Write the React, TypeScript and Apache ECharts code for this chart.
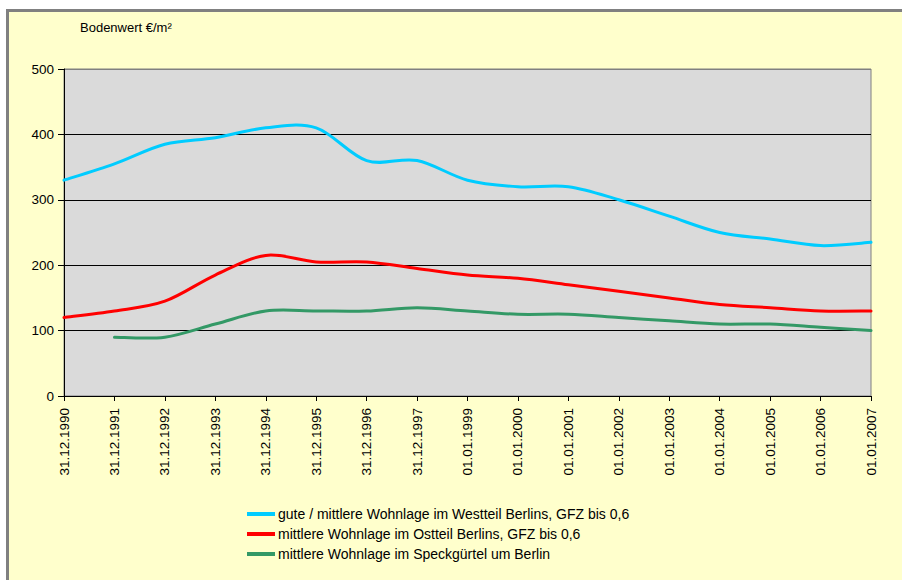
import React, { useEffect, useRef } from "react";
import * as echarts from "echarts";

const categories = [
  "31.12.1990", "31.12.1991", "31.12.1992", "31.12.1993", "31.12.1994", "31.12.1995",
  "31.12.1996", "31.12.1997", "01.01.1999", "01.01.2000", "01.01.2001", "01.01.2002",
  "01.01.2003", "01.01.2004", "01.01.2005", "01.01.2006", "01.01.2007",
];

const westName = "gute / mittlere Wohnlage im Westteil Berlins, GFZ bis 0,6";
const ostName = "mittlere Wohnlage im Ostteil Berlins, GFZ bis 0,6";
const speckName = "mittlere Wohnlage im Speckgürtel um Berlin";

const westValues = [330, 355, 385, 395, 410, 410, 360, 360, 330, 320, 320, 300, 275, 250, 240, 230, 235];
const ostValues = [120, 130, 145, 185, 215, 205, 205, 195, 185, 180, 170, 160, 150, 140, 135, 130, 130];
const speckValues: (number | null)[] = [null, 90, 90, 110, 130, 130, 130, 135, 130, 125, 125, 120, 115, 110, 110, 105, 100];

const yTicks = [0, 100, 200, 300, 400, 500];

const FONT = "'Liberation Sans', Arial, sans-serif";

// Excel-style smoothed line (Bezier with Catmull-Rom control points, tension 1/6)
function smoothPath(pts: number[][]): string {
  if (pts.length === 0) return "";
  let d = `M${pts[0][0]},${pts[0][1]}`;
  for (let i = 0; i < pts.length - 1; i++) {
    const p0 = pts[i - 1] || pts[i];
    const p1 = pts[i];
    const p2 = pts[i + 1];
    const p3 = pts[i + 2] || pts[i + 1];
    const c1x = p1[0] + (p2[0] - p0[0]) / 6;
    const c1y = p1[1] + (p2[1] - p0[1]) / 6;
    const c2x = p2[0] - (p3[0] - p1[0]) / 6;
    const c2y = p2[1] - (p3[1] - p1[1]) / 6;
    d += ` C${c1x},${c1y} ${c2x},${c2y} ${p2[0]},${p2[1]}`;
  }
  return d;
}

export default function App() {
  const ref = useRef<HTMLDivElement>(null);
  useEffect(() => {
    if (!ref.current) return;
    const chart = echarts.init(ref.current, null, { renderer: "svg" });
    const mk = (name: string, values: (number | null)[], color: string) => ({
      name,
      type: "custom",
      encode: { x: 0, y: 1 },
      data: values.map((v, i) => [i, v == null ? "-" : v]),
      itemStyle: { color },
      renderItem: (params: any, api: any) => {
        if (params.dataIndex !== values.length - 1) return null;
        const pts: number[][] = [];
        values.forEach((v, i) => {
          if (v != null) pts.push(api.coord([i, v]));
        });
        return {
          type: "path",
          shape: { pathData: smoothPath(pts) },
          style: { stroke: color, fill: "none", lineWidth: 3, lineJoin: "round", lineCap: "round" },
          silent: true,
        };
      },
    });
    chart.setOption({
      animation: false,
      backgroundColor: "#ffffff",
      textStyle: { fontFamily: FONT },
      graphic: [
        {
          type: "rect",
          shape: { x: 7.5, y: 10.5, width: 1000, height: 1000 },
          style: { fill: "#FFFFCC", stroke: "#808080", lineWidth: 3 },
          z: -10,
        },
        {
          type: "text",
          x: 80,
          y: 21,
          style: { text: "Bodenwert €/m²", font: `13px ${FONT}`, fill: "#000" },
        },
      ],
      grid: {
        left: 64,
        right: 31,
        top: 69,
        bottom: 184,
        show: true,
        backgroundColor: "#DADADA",
        borderColor: "#808080",
        borderWidth: 1,
      },
      legend: {
        orient: "vertical",
        left: 247,
        top: 506,
        padding: 0,
        icon: "rect",
        itemWidth: 28,
        itemHeight: 4,
        itemGap: 4,
        textStyle: { fontFamily: FONT, fontSize: 14, color: "#000", lineHeight: 16, padding: [0, 0, 0, -2] },
        data: [westName, ostName, speckName],
      },
      xAxis: {
        type: "category",
        data: categories,
        boundaryGap: false,
        axisLine: { lineStyle: { color: "#000", width: 1 } },
        axisTick: { show: true, length: 5, lineStyle: { color: "#000" } },
        axisLabel: {
          rotate: 90,
          interval: 0,
          margin: 12,
          fontFamily: FONT,
          fontSize: 13.5,
          color: "#000",
        },
      },
      yAxis: {
        type: "value",
        min: yTicks[0],
        max: yTicks[yTicks.length - 1],
        interval: 100,
        axisLine: { show: true, lineStyle: { color: "#000", width: 1 } },
        axisTick: { show: true, length: 6, lineStyle: { color: "#000" } },
        axisLabel: { fontFamily: FONT, fontSize: 13.5, color: "#000", margin: 10 },
        splitLine: {
          show: true,
          lineStyle: { color: ["#000", "#000", "#000", "#000", "#000", "#808080"], width: 1 },
        },
      },
      series: [
        mk(westName, westValues, "#00CCFF"),
        mk(ostName, ostValues, "#FF0000"),
        mk(speckName, speckValues, "#339966"),
      ],
    });
    return () => chart.dispose();
  }, []);
  return (
    <div
      ref={ref}
      style={{ position: "absolute", left: 0, top: 0, width: 902, height: 580 }}
    />
  );
}
